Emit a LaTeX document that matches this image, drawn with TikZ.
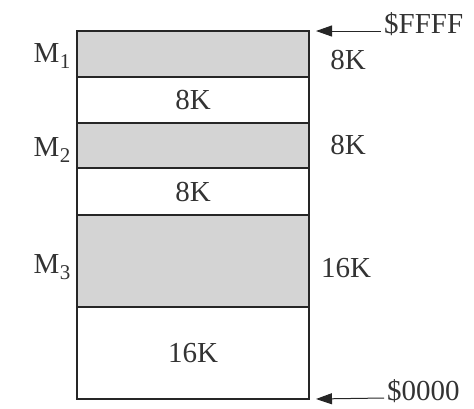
\documentclass[tikz,border=0pt]{standalone}
\usepackage{fontspec}
\setmainfont{Liberation Serif}
\usetikzlibrary{arrows.meta}
\definecolor{shade}{RGB}{212,212,212}
\tikzset{
  blk/.style={draw=black!85, line width=1.6pt, rectangle, inner sep=0pt, outer sep=0pt, minimum width=232pt},
  lbl/.style={font=\fontsize{29}{33}\selectfont, inner sep=0pt, text=black!80},
  ptr/.style={line width=1pt, draw=black!85, -{Triangle[length=16pt,width=11pt]}}
}
\newcommand{\Msub}[1]{M\kern0.5pt\raisebox{-0.4ex}{\fontsize{21}{24}\selectfont #1}}
\begin{document}
\begin{tikzpicture}[x=1pt,y=-1pt]
\useasboundingbox (0,0) rectangle (474,408);
\node[blk, fill=shade, minimum height=46pt] (m1) at (193,54) {};
\node[blk, minimum height=46pt, lbl] (b2) at (193,100) {8K};
\node[blk, fill=shade, minimum height=45pt] (m2) at (193,145.5) {};
\node[blk, minimum height=47pt, lbl] (b4) at (193,191.5) {8K};
\node[blk, fill=shade, minimum height=92pt] (m3) at (193,261) {};
\node[blk, minimum height=92pt, lbl] (b6) at (193,353) {16K};
% left labels
\node[lbl] (l1) at (52,56) {\Msub{1}};
\node[lbl] (l2) at (52,150) {\Msub{2}};
\node[lbl] (l3) at (52,267) {\Msub{3}};
% right sizes
\node[lbl] (r1) at (348,60) {8K};
\node[lbl] (r2) at (348,145) {8K};
\node[lbl] (r3) at (346,268) {16K};
% address pointers
\node[lbl, anchor=west] (ftxt) at (384,24) {\$FFFF};
\node[lbl, anchor=west] (ztxt) at (387,391) {\$0000};
\coordinate (ftail) at (381,31);
\coordinate (ztail) at (384,398);
\draw[ptr] (ftail) -- ([xshift=7pt]m1.north east);
\draw[ptr] (ztail) -- ([xshift=7pt]b6.south east);
\end{tikzpicture}
\end{document}
